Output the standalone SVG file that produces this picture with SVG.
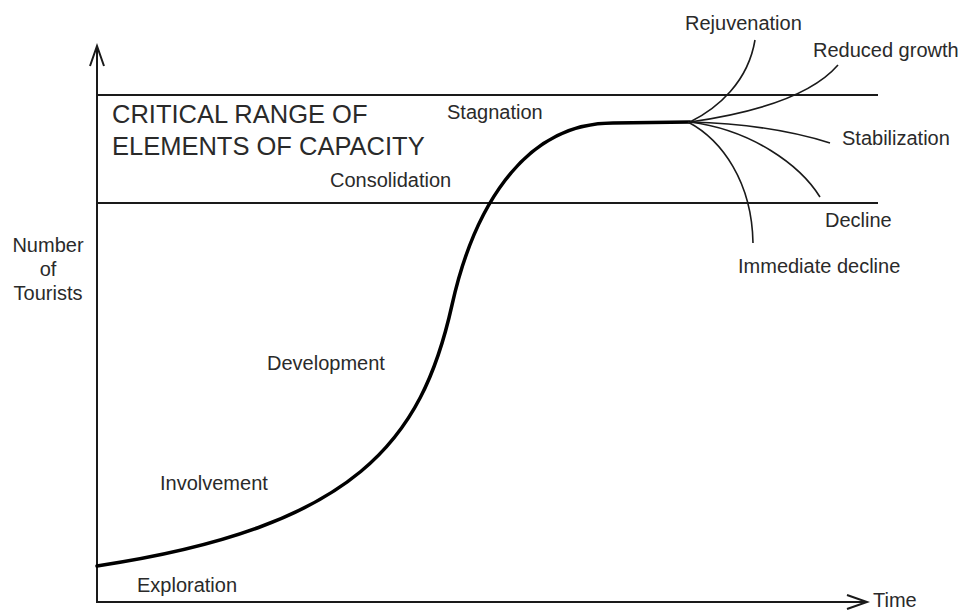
<svg xmlns="http://www.w3.org/2000/svg" width="966" height="611" viewBox="0 0 966 611">
<style>
text{font-family:"Liberation Sans",Arial,sans-serif;fill:#2a2a2a;font-size:20px}
.big{font-size:25.5px}
.ax{stroke:#1a1a1a;stroke-width:2;fill:none}
.rng{stroke:#1a1a1a;stroke-width:2;fill:none}
.main{stroke:#000;stroke-width:3.5;fill:none;stroke-linecap:round}
.br{stroke:#1a1a1a;stroke-width:1.6;fill:none}
</style>
<defs>
<marker id="arr" markerWidth="24" markerHeight="16" refX="21" refY="8" orient="auto" markerUnits="userSpaceOnUse">
<path d="M1,1 L21,8 L1,15" fill="none" stroke="#1a1a1a" stroke-width="2"/>
</marker>
</defs>
<rect width="966" height="611" fill="#fff"/>
<g id="axes">
<line class="ax" x1="97" y1="602" x2="97" y2="46" marker-end="url(#arr)"/>
<line class="ax" x1="96" y1="602" x2="867" y2="602" marker-end="url(#arr)"/>
<text x="873" y="607" font-size="24.5">Time</text>
<text x="48" y="252" text-anchor="middle" font-size="19.5">Number</text>
<text x="48" y="276" text-anchor="middle" font-size="19.5">of</text>
<text x="48" y="300" text-anchor="middle" font-size="19.5">Tourists</text>
</g>
<g id="critical-range">
<line class="rng" x1="97" y1="95" x2="878" y2="95"/>
<line class="rng" x1="97" y1="203" x2="878" y2="203"/>
<text class="big" x="112" y="123">CRITICAL RANGE OF</text>
<text class="big" x="112" y="155">ELEMENTS OF CAPACITY</text>
</g>
<g id="connectors">
<path id="main-curve" class="main" d="M97,566 C357,527 422,440 452,305 C472,215 520,123 613,123 L690,122"/>
<path id="rejuvenation-curve" class="br" d="M690,122 C718,108 748,82 755,40"/>
<path id="reduced-growth-curve" class="br" d="M690,122 C760,112 812,95 838,65"/>
<path id="stabilization-curve" class="br" d="M690,122 Q770,124 830,143"/>
<path id="decline-curve" class="br" d="M690,122 C752,130 800,165 820,197"/>
<path id="immediate-decline-curve" class="br" d="M688,122 C722,140 752,182 753,243"/>
</g>
<g id="stage-exploration"><text x="137" y="592">Exploration</text></g>
<g id="stage-involvement"><text x="160" y="490">Involvement</text></g>
<g id="stage-development"><text x="267" y="370">Development</text></g>
<g id="stage-consolidation"><text x="330" y="187">Consolidation</text></g>
<g id="stage-stagnation"><text x="447" y="119">Stagnation</text></g>
<g id="out-rejuvenation"><text x="685" y="30">Rejuvenation</text></g>
<g id="out-reduced-growth"><text x="813" y="57">Reduced growth</text></g>
<g id="out-stabilization"><text x="842" y="145">Stabilization</text></g>
<g id="out-decline"><text x="825" y="227">Decline</text></g>
<g id="out-immediate-decline"><text x="738" y="273">Immediate decline</text></g>
</svg>
